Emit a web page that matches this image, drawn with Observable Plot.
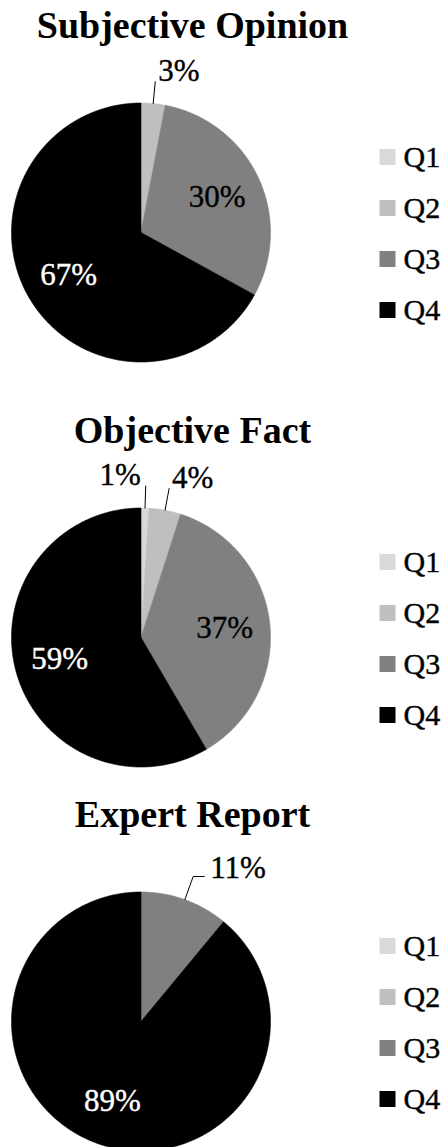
<!DOCTYPE html>
<html>
<head>
<meta charset="utf-8">
<script src="https://cdn.jsdelivr.net/npm/d3@7"></script>
<script src="https://cdn.jsdelivr.net/npm/@observablehq/plot@0.6"></script>
<style>
  html, body { margin: 0; padding: 0; background: #fff; }
  #chart svg, #chart svg text { font-family: "Liberation Serif", "Times New Roman", Times, serif !important; }
</style>
</head>
<body>
<div id="chart"></div>
<script>
// ---- data ----
const charts = ["Subjective Opinion", "Objective Fact", "Expert Report"];
const quarters = ["Q1", "Q2", "Q3", "Q4"];
const subjective = [0, 3, 30, 67];
const objective = [1, 4, 37, 59];
const expert = [0, 0, 11, 89];
const grays = ["#d9d9d9", "#bfbfbf", "#808080", "#000000"];

// ---- layout ----
const W = 443, H = 1147;
const cx = 140.5, R = 129.5;
const panelTops = [0, 405, 789];
const titleX = 192, titleDy = 37, centerDy = 232;
const legendSquareX = 387, legendTextX = 403, legendStep = 51;
const series = [subjective, objective, expert];

const slicePts = [], inLabels = [], outLabels = [], leaders = [], titles = [], legend = [];

series.forEach((vals, i) => {
  const top = panelTops[i];
  const cy = top + centerDy;
  titles.push({x: titleX, y: top + titleDy, text: charts[i]});
  const total = d3.sum(vals);
  let acc = 0;
  const arcs = vals.map((v, j) => {
    const a0 = acc / total * 2 * Math.PI;
    acc += v;
    const a1 = acc / total * 2 * Math.PI;
    return {v, j, a0, a1, mid: (a0 + a1) / 2};
  }).filter(d => d.v > 0);

  arcs.forEach(a => {
    const id = i + "-" + a.j;
    const q = quarters[a.j];
    slicePts.push({x: cx, y: cy, q, id});
    const n = Math.max(2, Math.ceil((a.a1 - a.a0) / (Math.PI / 360)));
    for (let k = 0; k <= n; k++) {
      const t = a.a0 + (a.a1 - a.a0) * k / n;
      slicePts.push({x: cx + R * Math.sin(t), y: cy - R * Math.cos(t), q, id});
    }
    slicePts.push({x: cx, y: cy, q, id});
  });

  const outs = arcs.filter(a => a.v < 15);
  arcs.filter(a => a.v >= 15).forEach(a => {
    inLabels.push({
      x: cx + 0.65 * R * Math.sin(a.mid),
      y: cy - 0.65 * R * Math.cos(a.mid),
      text: a.v + "%",
      color: a.j === 3 ? "#ffffff" : "#000000"
    });
  });
  outs.forEach((a, k) => {
    const id = "L" + i + "-" + a.j;
    const ex = cx + R * Math.sin(a.mid), ey = cy - R * Math.cos(a.mid);
    const wide = a.mid > 0.3;
    const f = wide ? 1.19 : 1.17;
    const bx = cx + f * R * Math.sin(a.mid), by = cy - f * R * Math.cos(a.mid);
    leaders.push({x: ex, y: ey, id}, {x: bx, y: by, id});
    let tx = bx, anchor = "start", ty = by - 1;
    if (wide) {
      leaders.push({x: bx + 11, y: by, id});
      tx = bx + 17; ty = by + 1;
    } else if (k < outs.length - 1) {
      tx = bx - 5; anchor = "end";
    } else {
      tx = bx + 3;
    }
    outLabels.push({x: tx, y: ty, text: a.v + "%", anchor});
  });

  quarters.forEach((q, j) => {
    legend.push({x: legendSquareX, tx: legendTextX, y: cy + (j - 1.5) * legendStep + 1, q});
  });
});

const font = "Liberation Serif";
const thick = 0.4;

const plot = Plot.plot({
  width: W,
  height: H,
  margin: 0,
  x: {domain: [0, W], range: [0, W], axis: null},
  y: {domain: [0, H], range: [0, H], axis: null},
  color: {domain: quarters, range: grays},
  style: {background: "#ffffff", color: "#000"},
  marks: [
    Plot.line(slicePts, {x: "x", y: "y", z: "id", fill: "q", stroke: "q", strokeWidth: 0.6, curve: "linear"}),
    Plot.line(leaders, {x: "x", y: "y", z: "id", stroke: "#000", strokeWidth: 1}),
    Plot.text(inLabels, {x: "x", y: "y", text: "text", fill: d => d.color, stroke: d => d.color, strokeWidth: thick, fontFamily: font, fontSize: 31, lineAnchor: "middle", textAnchor: "middle"}),
    Plot.text(outLabels.filter(d => d.anchor === "start"), {x: "x", y: "y", text: "text", fill: "#000", stroke: "#000", strokeWidth: thick, fontFamily: font, fontSize: 31, lineAnchor: "bottom", textAnchor: "start"}),
    Plot.text(outLabels.filter(d => d.anchor === "end"), {x: "x", y: "y", text: "text", fill: "#000", stroke: "#000", strokeWidth: thick, fontFamily: font, fontSize: 31, lineAnchor: "bottom", textAnchor: "end"}),
    Plot.text(titles, {x: "x", y: "y", text: "text", fill: "#000", fontFamily: font, fontSize: 38, fontWeight: "bold", lineAnchor: "bottom", textAnchor: "middle"}),
    Plot.dot(legend, {x: "x", y: "y", fill: "q", symbol: "square", r: 9.03, stroke: null}),
    Plot.text(legend, {x: "tx", y: "y", text: "q", fill: "#000", stroke: "#000", strokeWidth: thick, fontFamily: font, fontSize: 30, lineAnchor: "middle", textAnchor: "start"})
  ]
});
document.getElementById("chart").appendChild(plot);
</script>
</body>
</html>
